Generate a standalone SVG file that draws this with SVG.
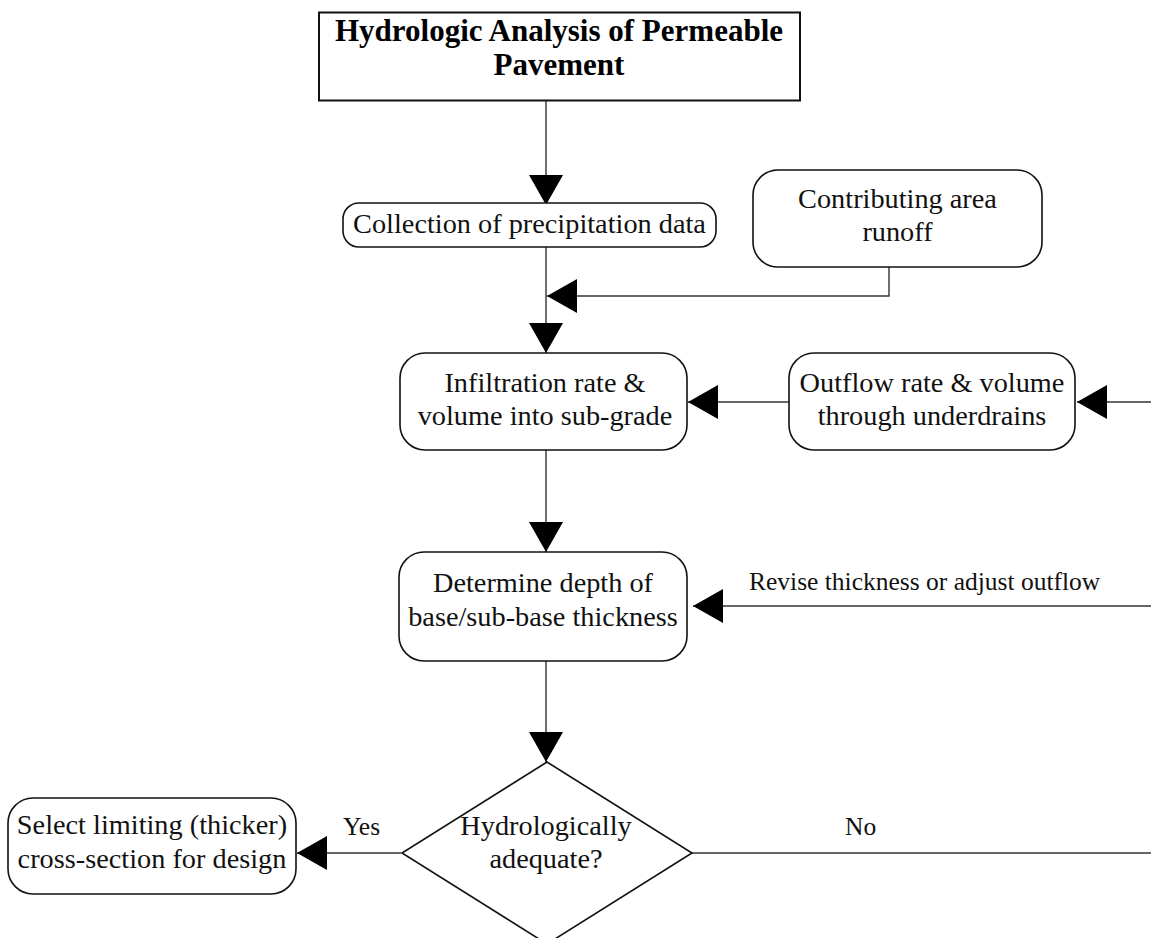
<svg xmlns="http://www.w3.org/2000/svg" width="1151" height="938" viewBox="0 0 1151 938">
<style>
.box{fill:#fff;stroke:#111;stroke-width:1.6}
.t{font-family:"Liberation Serif","Times New Roman",serif;font-size:28.3px;fill:#111;text-anchor:middle}
.title{font-family:"Liberation Serif","Times New Roman",serif;font-size:31px;font-weight:bold;fill:#000;text-anchor:middle}
.lbl{font-family:"Liberation Serif","Times New Roman",serif;font-size:25.5px;fill:#111}
.c{fill:none;stroke:#333;stroke-width:1.4}
</style>
<defs>
<marker id="ah" markerUnits="userSpaceOnUse" markerWidth="30" markerHeight="34" refX="30" refY="17" orient="auto" viewBox="0 0 30 34">
<path d="M0,0 L30,17 L0,34 Z" fill="#000"/>
</marker>
</defs>
<rect width="1151" height="938" fill="#fff"/>
<g id="connectors">
<path class="c" d="M546,101 V205" marker-end="url(#ah)"/>
<path class="c" d="M546,247 V353" marker-end="url(#ah)"/>
<path class="c" d="M889,267 V296 H547" marker-end="url(#ah)"/>
<path class="c" d="M790,402 H688" marker-end="url(#ah)"/>
<path class="c" d="M1151,402 H1077" marker-end="url(#ah)"/>
<path class="c" d="M546,450 V552" marker-end="url(#ah)"/>
<path class="c" d="M1151,606 H693" marker-end="url(#ah)"/>
<path class="c" d="M546,661 V762" marker-end="url(#ah)"/>
<path class="c" d="M401,853 H297" marker-end="url(#ah)"/>
<path class="c" d="M692,853 H1151"/>
<text class="lbl" x="749" y="590">Revise thickness or adjust outflow</text>
<text class="lbl" x="343" y="835">Yes</text>
<text class="lbl" x="845" y="835">No</text>
</g>
<g id="title">
<rect x="319" y="12.5" width="481" height="88" fill="#fff" stroke="#111" stroke-width="2"/>
<text class="title" x="559" y="41">Hydrologic Analysis of Permeable</text>
<text class="title" x="559" y="75">Pavement</text>
</g>
<g id="collection">
<rect class="box" x="343" y="203" width="373" height="44" rx="16"/>
<text class="t" x="529.5" y="233">Collection of precipitation data</text>
</g>
<g id="contributing">
<rect class="box" x="753" y="170" width="289" height="97" rx="25"/>
<text class="t" x="897.5" y="208">Contributing area</text>
<text class="t" x="897.5" y="241">runoff</text>
</g>
<g id="infiltration">
<rect class="box" x="400" y="353" width="287" height="97" rx="25"/>
<text class="t" x="545" y="392">Infiltration rate &amp;</text>
<text class="t" x="545" y="425">volume into sub-grade</text>
</g>
<g id="outflow">
<rect class="box" x="789" y="353" width="286" height="97" rx="25"/>
<text class="t" x="932" y="392">Outflow rate &amp; volume</text>
<text class="t" x="932" y="425">through underdrains</text>
</g>
<g id="determine">
<rect class="box" x="399" y="552" width="288" height="109" rx="25"/>
<text class="t" x="543" y="592">Determine depth of</text>
<text class="t" x="543" y="626">base/sub-base thickness</text>
</g>
<g id="decision">
<polygon class="box" points="547,762 692,853 547,944 402,853"/>
<text class="t" x="546" y="835">Hydrologically</text>
<text class="t" x="546" y="868">adequate?</text>
</g>
<g id="select">
<rect class="box" x="8" y="798" width="288" height="96" rx="25"/>
<text class="t" x="152" y="834">Select limiting (thicker)</text>
<text class="t" x="152" y="868">cross-section for design</text>
</g>
</svg>
